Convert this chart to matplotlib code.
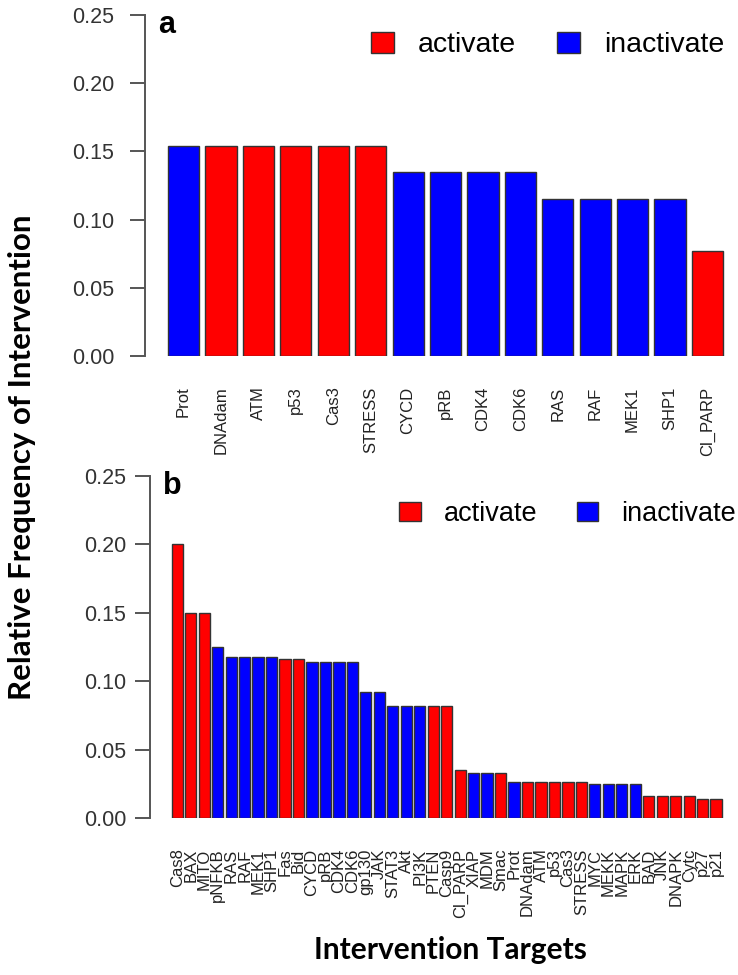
import matplotlib
matplotlib.use("Agg")
import matplotlib.pyplot as plt
from matplotlib.patches import Patch
import numpy as np

plt.rcParams['font.family'] = ['Liberation Sans', 'DejaVu Sans']

RED = '#FF0000'
BLUE = '#0000FF'

# panel a: single-node interventions
labels_a = ['Prot', 'DNAdam', 'ATM', 'p53', 'Cas3', 'STRESS', 'CYCD', 'pRB',
            'CDK4', 'CDK6', 'RAS', 'RAF', 'MEK1', 'SHP1', 'Cl_PARP']
values_a = [0.154, 0.154, 0.154, 0.154, 0.154, 0.154, 0.135, 0.135,
            0.135, 0.135, 0.115, 0.115, 0.115, 0.115, 0.077]
kind_a = ['i', 'a', 'a', 'a', 'a', 'a', 'i', 'i',
          'i', 'i', 'i', 'i', 'i', 'i', 'a']

# panel b: all targets
labels_b = ['Cas8', 'BAX', 'MITO', 'pNFKB', 'RAS', 'RAF', 'MEK1', 'SHP1',
            'Fas', 'Bid', 'CYCD', 'pRB', 'CDK4', 'CDK6', 'gp130', 'JAK',
            'STAT3', 'Akt', 'PI3K', 'PTEN', 'Casp9', 'Cl_PARP', 'XIAP', 'MDM',
            'Smac', 'Prot', 'DNAdam', 'ATM', 'p53', 'Cas3', 'STRESS', 'MYC',
            'MEKK', 'MAPK', 'ERK', 'BAD', 'JNK', 'DNAPK', 'Cytc', 'p27', 'p21']
values_b = [0.200, 0.150, 0.150, 0.125, 0.118, 0.118, 0.118, 0.118,
            0.116, 0.116, 0.114, 0.114, 0.114, 0.114, 0.092, 0.092,
            0.082, 0.082, 0.082, 0.082, 0.082, 0.035, 0.033, 0.033,
            0.033, 0.026, 0.026, 0.026, 0.026, 0.026, 0.026, 0.0246,
            0.0246, 0.0246, 0.0246, 0.0163, 0.0163, 0.0163, 0.0163, 0.0136, 0.0136]
kind_b = ['a', 'a', 'a', 'i', 'i', 'i', 'i', 'i',
          'a', 'a', 'i', 'i', 'i', 'i', 'i', 'i',
          'i', 'i', 'i', 'a', 'a', 'a', 'i', 'i',
          'a', 'i', 'a', 'a', 'a', 'a', 'a', 'i',
          'i', 'i', 'i', 'a', 'a', 'a', 'a', 'a', 'a']

yticks = [0.00, 0.05, 0.10, 0.15, 0.20, 0.25]

W, H = 738, 975
fig = plt.figure(figsize=(W / 100, H / 100), dpi=100)


def panel(rect, labels, values, kinds, xlim, letter, label_size, tick_pad, leg_x, leg_y, leg_size):
    ax = fig.add_axes(rect)
    pos = 0.7 + 1.2 * np.arange(len(values))
    cols = [RED if k == 'a' else BLUE for k in kinds]
    ax.bar(pos, values, width=1.0, color=cols, edgecolor='#333333', linewidth=1.0)
    ax.set_xlim(*xlim)
    ax.set_ylim(0, 0.25)
    for s in ['top', 'right', 'bottom']:
        ax.spines[s].set_visible(False)
    ax.spines['left'].set_color('#555555')
    ax.spines['left'].set_linewidth(1.4)
    ax.set_yticks(yticks)
    ax.set_yticklabels(['%.2f' % t for t in yticks], fontsize=15.5, color='#333333')
    ax.tick_params(axis='y', length=11, width=1.4, color='#555555', pad=tick_pad)
    ax.set_xticks(pos)
    ax.set_xticklabels(labels, rotation=90, fontsize=label_size, color='#222222')
    ax.tick_params(axis='x', length=0, pad=22)
    ax.text(0.022, 0.947, letter, transform=ax.transAxes, fontsize=22,
            fontweight='bold', va='baseline', ha='left')
    handles = [Patch(facecolor=RED, edgecolor='#333333', label='activate'),
               Patch(facecolor=BLUE, edgecolor='#333333', label='inactivate')]
    ax.legend(handles=handles, ncol=2, frameon=False, fontsize=leg_size,
              loc='center left', bbox_to_anchor=(leg_x / W, 1 - leg_y / H),
              bbox_transform=fig.transFigure, borderpad=0, borderaxespad=0,
              handlelength=0.8, handleheight=0.75, handletextpad=0.85,
              columnspacing=1.45)
    return ax


panel([145 / W, 1 - 356 / H, (728 - 145) / W, (356 - 15) / H],
      labels_a, values_a, kind_a, (-0.538, 18.16), 'a', 12, 11, 371, 45, 20.5)
panel([150 / W, 1 - 818 / H, (728 - 150) / W, (818 - 476) / H],
      labels_b, values_b, kind_b, (-1.73, 49.76), 'b', 12, 6, 399, 514, 19.5)

fig.text(22 / W, 1 - 457 / H, 'Relative Frequency of Intervention', rotation=90,
         ha='center', va='center', fontsize=22.5, fontweight='bold',
         family=['Lato', 'DejaVu Sans'])
fig.text(450 / W, 1 - 950 / H, 'Intervention Targets', ha='center', va='center',
         fontsize=21.5, fontweight='bold', family=['Lato', 'DejaVu Sans'])

fig.savefig('out.png', dpi=100)
